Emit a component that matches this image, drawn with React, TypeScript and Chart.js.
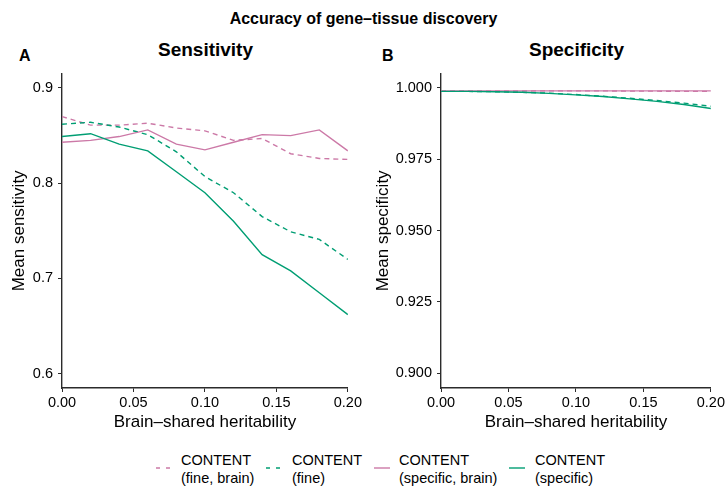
import React, { useEffect, useRef } from "react";
import { Chart, registerables } from "chart.js";

Chart.register(...registerables);

// Brain-shared heritability grid used in the simulation
const heritability = [0, 0.02, 0.04, 0.06, 0.08, 0.1, 0.12, 0.14, 0.16, 0.18, 0.2];

// Mean sensitivity per method
const sensFineBrain = [0.870, 0.861, 0.861, 0.863, 0.858, 0.855, 0.845, 0.847, 0.831, 0.826, 0.825];
const sensFine = [0.862, 0.864, 0.859, 0.851, 0.833, 0.807, 0.790, 0.765, 0.749, 0.741, 0.720];
const sensSpecificBrain = [0.843, 0.845, 0.849, 0.856, 0.841, 0.835, 0.843, 0.851, 0.850, 0.856, 0.834];
const sensSpecific = [0.849, 0.852, 0.841, 0.834, 0.812, 0.790, 0.760, 0.725, 0.708, 0.685, 0.662];

// Mean specificity per method
const specFineBrain = [0.9989, 0.9989, 0.9989, 0.9989, 0.9989, 0.9989, 0.9989, 0.9988, 0.9988, 0.9987, 0.9987];
const specFine = [0.9987, 0.9987, 0.9986, 0.9984, 0.9981, 0.9976, 0.9970, 0.9963, 0.9955, 0.9946, 0.9935];
const specSpecificBrain = [0.9989, 0.9989, 0.9989, 0.9989, 0.9989, 0.9989, 0.9989, 0.9989, 0.9989, 0.9989, 0.9989];
const specSpecific = [0.9987, 0.9987, 0.9986, 0.9984, 0.9980, 0.9975, 0.9969, 0.9961, 0.9952, 0.9941, 0.9927];

// Axis ticks
const xTicks = [0, 0.05, 0.1, 0.15, 0.2];
const sensTicks = [0.6, 0.7, 0.8, 0.9];
const specTicks = [0.9, 0.925, 0.95, 0.975, 1.0];

// Legend labels (two lines each)
const methodNames = ["CONTENT", "CONTENT", "CONTENT", "CONTENT"];
const methodDetails = ["(fine, brain)", "(fine)", "(specific, brain)", "(specific)"];

const PINK = "#CC79A7";
const GREEN = "#009E73";
const AXIS = "#2b2b2b";
const FONT = "'Liberation Sans', Arial, Helvetica, sans-serif";

const methodStyles = [
  { color: PINK, dashed: true, order: 4 },
  { color: GREEN, dashed: true, order: 3 },
  { color: PINK, dashed: false, order: 2 },
  { color: GREEN, dashed: false, order: 1 },
];

type PanelProps = {
  left: number;
  width: number;
  yAxisWidth: number;
  yMin: number;
  yMax: number;
  yTicks: number[];
  yDecimals: number;
  yTitle: string;
  series: number[][];
};

function Panel({ left, width, yAxisWidth, yMin, yMax, yTicks, yDecimals, yTitle, series }: PanelProps) {
  const ref = useRef<HTMLCanvasElement | null>(null);

  useEffect(() => {
    if (!ref.current) return;
    const chart = new Chart(ref.current, {
      type: "line",
      data: {
        datasets: series.map((vals, i) => ({
          label: methodNames[i] + " " + methodDetails[i],
          data: heritability.map((h, j) => ({ x: h, y: vals[j] })),
          borderColor: methodStyles[i].color,
          borderWidth: 1.4,
          borderDash: methodStyles[i].dashed ? [5, 4] : [],
          pointRadius: 0,
          fill: false,
          tension: 0,
          order: methodStyles[i].order,
        })),
      },
      options: {
        animation: false,
        responsive: false,
        devicePixelRatio: 1,
        events: [],
        layout: { padding: { top: 12, right: 15, bottom: 0, left: 0 } },
        plugins: {
          legend: { display: false },
          tooltip: { enabled: false },
          title: { display: false },
        },
        scales: {
          x: {
            type: "linear",
            min: 0,
            max: 0.2,
            afterBuildTicks: (s: any) => {
              s.ticks = xTicks.map((v) => ({ value: v }));
            },
            afterFit: (s: any) => {
              s.height = 62;
            },
            grid: { drawOnChartArea: false, drawTicks: true, tickLength: 4, color: AXIS, lineWidth: 1 },
            border: { display: true, color: AXIS, width: 1.4 },
            ticks: {
              padding: 2,
              color: "#000",
              font: { family: FONT, size: 14.5 },
              maxRotation: 0,
              autoSkip: false,
              callback: (v: any) => Number(v).toFixed(2),
            },
            title: {
              display: true,
              text: "Brain–shared heritability",
              color: "#000",
              font: { family: FONT, size: 17 },
              padding: { top: 0, bottom: 17 },
            },
          },
          y: {
            type: "linear",
            min: yMin,
            max: yMax,
            afterBuildTicks: (s: any) => {
              s.ticks = yTicks.map((v) => ({ value: v }));
            },
            afterFit: (s: any) => {
              s.width = yAxisWidth;
            },
            grid: { drawOnChartArea: false, drawTicks: true, tickLength: 4, color: AXIS, lineWidth: 1 },
            border: { display: true, color: AXIS, width: 1.4 },
            ticks: {
              padding: 5,
              color: "#000",
              font: { family: FONT, size: 14.5 },
              autoSkip: false,
              callback: (v: any) => Number(v).toFixed(yDecimals),
            },
            title: {
              display: true,
              text: yTitle,
              color: "#000",
              font: { family: FONT, size: 17 },
              padding: { top: 9, bottom: 0 },
            },
          },
        },
      },
    } as any);
    return () => chart.destroy();
  }, []);

  return (
    <canvas
      ref={ref}
      width={width}
      height={390}
      style={{ position: "absolute", left, top: 60, width, height: 390 }}
    />
  );
}

const legendSampleX = [156, 266, 374, 509];
const legendTextX = [181, 292, 399, 535];

export default function App() {
  const text = (style: React.CSSProperties, content: React.ReactNode) => (
    <div style={{ position: "absolute", whiteSpace: "nowrap", color: "#000", fontFamily: FONT, ...style }}>{content}</div>
  );

  return (
    <div
      style={{
        position: "absolute",
        left: 0,
        top: 0,
        width: 727,
        height: 487,
        overflow: "hidden",
        background: "#fff",
        fontFamily: FONT,
      }}
    >
      {text(
        { left: 0, top: 9, width: 727, textAlign: "center", fontSize: 16, fontWeight: "bold", lineHeight: "20px" },
        "Accuracy of gene–tissue discovery"
      )}
      {text({ left: 19, top: 46, fontSize: 16, fontWeight: "bold", lineHeight: "20px" }, "A")}
      {text({ left: 382, top: 46, fontSize: 16, fontWeight: "bold", lineHeight: "20px" }, "B")}
      {text(
        { left: 62, top: 40, width: 287, textAlign: "center", fontSize: 19, fontWeight: "bold", lineHeight: "20px" },
        "Sensitivity"
      )}
      {text(
        { left: 441, top: 40, width: 271, textAlign: "center", fontSize: 19, fontWeight: "bold", lineHeight: "20px" },
        "Specificity"
      )}

      <Panel
        left={0}
        width={364}
        yAxisWidth={62}
        yMin={0.585}
        yMax={0.915}
        yTicks={sensTicks}
        yDecimals={1}
        yTitle="Mean sensitivity"
        series={[sensFineBrain, sensFine, sensSpecificBrain, sensSpecific]}
      />
      <Panel
        left={364}
        width={363}
        yAxisWidth={77}
        yMin={0.8949}
        yMax={1.0049}
        yTicks={specTicks}
        yDecimals={3}
        yTitle="Mean specificity"
        series={[specFineBrain, specFine, specSpecificBrain, specSpecific]}
      />

      {methodStyles.map((s, i) => (
        <React.Fragment key={i}>
          <svg
            width={16}
            height={6}
            style={{ position: "absolute", left: legendSampleX[i], top: 465 }}
          >
            <line
              x1={0}
              y1={3}
              x2={16}
              y2={3}
              stroke={s.color}
              strokeWidth={1.4}
              strokeDasharray={s.dashed ? "4 6" : undefined}
            />
          </svg>
          {text(
            { left: legendTextX[i], top: 451, fontSize: 14.5, lineHeight: "18px" },
            <>
              {methodNames[i]}
              <br />
              {methodDetails[i]}
            </>
          )}
        </React.Fragment>
      ))}
    </div>
  );
}
